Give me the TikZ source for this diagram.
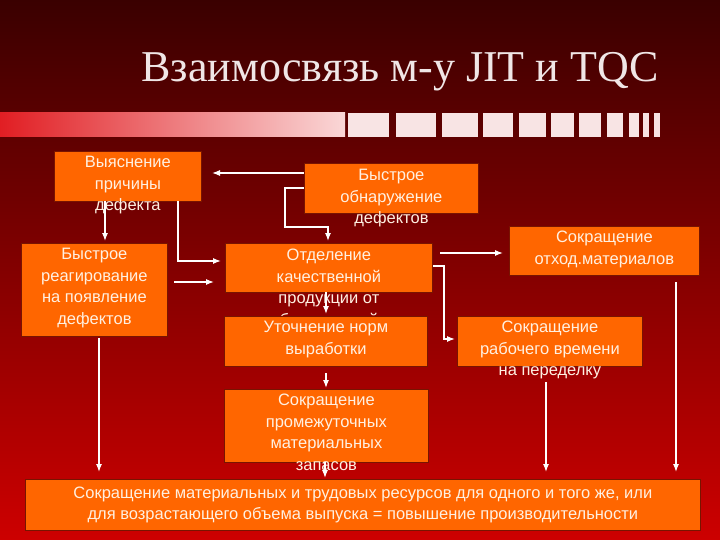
\documentclass[tikz,border=0pt]{standalone}
\usepackage{fontspec}
\setmainfont{Liberation Serif}
\newfontfamily\boxsans{Liberation Sans}
\definecolor{bgtop}{RGB}{58,0,0}
\definecolor{bgbot}{RGB}{205,0,0}
\definecolor{boxor}{RGB}{255,102,0}
\definecolor{stripL}{RGB}{225,30,35}
\definecolor{stripR}{RGB}{250,215,215}
\definecolor{blk}{RGB}{248,228,228}
\tikzset{
 box/.style={draw={rgb,255:red,120;green,20;blue,0}, line width=0.8pt, fill=boxor, anchor=north west, inner sep=0pt},
 txt/.style={anchor=north, text={rgb,255:red,255;green,240;blue,225}, align=center, font=\boxsans\fontsize{16.5}{21.5}\selectfont, inner sep=0pt},
 conn/.style={draw=white, line width=1.2pt, -{Latex[length=8pt,width=6pt]}},
}
\usetikzlibrary{arrows.meta}
\begin{document}
\begin{tikzpicture}[x=1pt,y=-1pt]
\useasboundingbox (0,0) rectangle (720,540);
\shade[top color=bgtop, bottom color=bgbot] (0,0) rectangle (720,540);
\node[font=\fontsize{44}{46}\selectfont, text={rgb,255:red,240;green,230;blue,230}] (title) at (400,72) {Взаимосвязь м-у JIT и TQC};
\shade[left color=stripL, right color=stripR] (0,113) rectangle (345,137);
\foreach \a/\b in {348/389,396/436,442/478,483/513,519/546,551/574,579/601,607/623,629/639,643/649,654/660}
  \fill[blk] (\a,113) rectangle (\b,137);
% boxes
\node[box, minimum width=147pt, minimum height=50pt] (A) at (54,151) {};
\node[txt] (At) at ([yshift=-5pt]A.north) {Выяснение\\причины\\дефекта};
\node[box, minimum width=174pt, minimum height=50pt] (B) at (304,163) {};
\node[txt] (Bt) at ([yshift=-6pt]B.north) {Быстрое\\обнаружение\\дефектов};
\node[box, minimum width=146pt, minimum height=93pt] (C) at (21,243) {};
\node[txt] (Ct) at ([yshift=-5pt]C.north) {Быстрое\\реагирование\\на появление\\дефектов};
\node[box, minimum width=207pt, minimum height=49pt] (D) at (225,243) {};
\node[txt] (Dt) at ([yshift=-6pt]D.north) {Отделение\\качественной\\продукции от\\бракованной};
\node[box, minimum width=203pt, minimum height=50pt] (E) at (224,316) {};
\node[txt] (Et) at ([yshift=-5pt]E.north) {Уточнение норм\\выработки};
\node[box, minimum width=190pt, minimum height=49pt] (F) at (509,226) {};
\node[txt] (Ft) at ([yshift=-5pt]F.north) {Сокращение\\отход.материалов};
\node[box, minimum width=185pt, minimum height=50pt] (G) at (457,316) {};
\node[txt] (Gt) at ([yshift=-5pt]G.north) {Сокращение\\рабочего времени\\на переделку};
\node[box, minimum width=204pt, minimum height=73pt] (H) at (224,389) {};
\node[txt] (Ht) at ([yshift=-5pt]H.north) {Сокращение\\промежуточных\\материальных\\запасов};
\node[box, minimum width=675pt, minimum height=51pt] (I) at (25,479) {};
\node[txt, anchor=center] (It) at (I.center) {Сокращение материальных и трудовых ресурсов для одного и того же, или\\для возрастающего объема выпуска = повышение производительности};
% connectors
\draw[conn] (B.west |- 0,173) -- (212,173);
\draw[conn] (B.west |- 0,188) -- (285,188) -- (285,227) -- (328,227) -- (328,241);
\draw[conn] (105,201) -- (105,241);
\draw[conn] (178,201) -- (178,261) -- (221,261);
\draw[conn] (174,282) -- (214,282);
\draw[conn] (440,253) -- (503,253);
\draw[conn] (D.east |- 0,266) -- (444,266) -- (444,339) -- (455,339);
\draw[conn] (326,292) -- (326,314);
\draw[conn] (326,373) -- (326,388);
\draw[conn] (325,462) -- (325,478);
\draw[conn] (99,338) -- (99,472);
\draw[conn] (546,382) -- (546,472);
\draw[conn] (676,282) -- (676,472);
\end{tikzpicture}
\end{document}
